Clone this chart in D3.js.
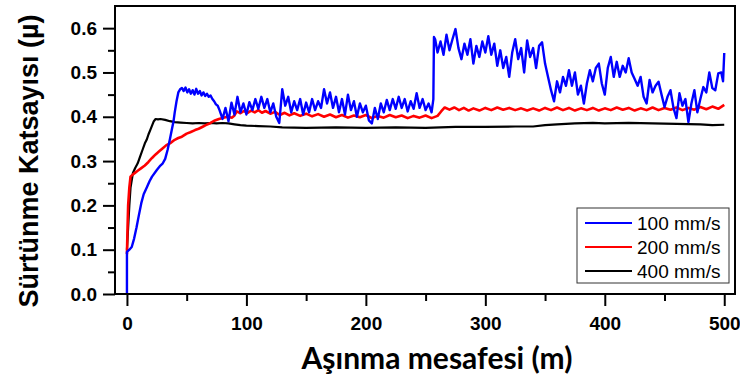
<!DOCTYPE html>
<html>
<head>
<meta charset="utf-8">
<script src="https://cdn.jsdelivr.net/npm/d3@7"></script>
<style>
  body { margin: 0; background: #fff; }
  svg { display: block; }
</style>
</head>
<body>
<svg id="chart" width="740" height="378"></svg>
<script>
// series: [distance (m), friction coefficient]
const blue100 = [
  [0,0],[0,0.095],[2,0.1],[4,0.106],[6,0.125],[8,0.15],[10,0.178],[12,0.205],[14,0.225],[16.5,0.24],
  [19,0.255],[21,0.265],[25,0.28],[28,0.29],[30,0.295],[32,0.305],[34,0.325],[36,0.35],[37.5,0.37],
  [39,0.39],[40,0.41],[41.5,0.435],[43,0.455],[44.5,0.462],[46,0.465],[47.5,0.458],[49,0.466],
  [50.5,0.455],[52,0.462],[53.5,0.452],[55,0.46],[56.5,0.45],[58,0.463],[59.5,0.452],[61,0.458],
  [62.5,0.448],[64,0.455],[65.5,0.447],[67,0.452],[68.5,0.445],[70,0.448],[71.5,0.44],[73,0.435],
  [74.5,0.428],[76,0.425],[77.5,0.415],[80,0.395],[82.5,0.42],[85,0.39],[87.5,0.432],[90,0.405],
  [92.5,0.445],[95,0.41],[97.5,0.43],[100,0.405],[102.5,0.433],[105,0.415],[107.5,0.44],[110,0.418],
  [112.5,0.445],[115,0.42],[117.5,0.44],[120,0.41],[122.5,0.43],[125,0.4],[127.5,0.386],[130,0.462],
  [132.5,0.425],[135,0.445],[137.5,0.41],[140,0.435],[142.5,0.415],[145,0.44],[147.5,0.405],
  [150,0.432],[152.5,0.41],[155,0.44],[157.5,0.415],[160,0.435],[162.5,0.42],[165,0.462],[167.5,0.43],
  [170,0.455],[172.5,0.42],[175,0.445],[177.5,0.41],[180,0.44],[182.5,0.405],[185,0.45],[187.5,0.415],
  [190,0.435],[192.5,0.4],[195,0.43],[197.5,0.41],[200,0.425],[202.5,0.392],[205,0.385],[207.5,0.42],
  [210,0.395],[212.5,0.43],[215,0.41],[217.5,0.438],[220,0.415],[222.5,0.44],[225,0.418],[227.5,0.445],
  [230,0.42],[232.5,0.44],[235,0.412],[237.5,0.435],[240,0.418],[242.5,0.453],[245,0.42],[247.5,0.44],
  [250,0.415],[252.5,0.43],[255,0.41],[256.5,0.44],[257,0.58],[258,0.575],[260,0.545],[262.5,0.57],
  [265,0.54],[267.5,0.585],[270,0.55],[272.5,0.575],[275,0.598],[277.5,0.555],[280,0.53],[282.5,0.565],
  [285,0.54],[287.5,0.575],[290,0.52],[292.5,0.56],[295,0.535],[297.5,0.57],[300,0.545],[302.5,0.582],
  [305,0.54],[307.5,0.565],[310,0.515],[312.5,0.55],[315,0.51],[317.5,0.535],[320,0.49],[322.5,0.545],
  [325,0.575],[327.5,0.53],[330,0.555],[332.5,0.5],[335,0.572],[337.5,0.535],[340,0.555],[342.5,0.51],
  [345,0.56],[347.5,0.568],[350,0.52],[352.5,0.49],[355,0.46],[357.5,0.435],[360,0.48],[362.5,0.455],
  [365,0.49],[367.5,0.47],[370,0.505],[372.5,0.47],[375,0.5],[377.5,0.45],[380,0.47],[382.5,0.43],
  [385,0.475],[387.5,0.505],[390,0.48],[392.5,0.51],[395,0.52],[397.5,0.475],[400,0.45],[402.5,0.51],
  [405,0.535],[407.5,0.49],[410,0.524],[412.5,0.49],[415,0.515],[417.5,0.5],[420,0.532],[422.5,0.5],
  [425,0.485],[427.5,0.47],[430,0.49],[432.5,0.445],[435,0.43],[437.5,0.483],[440,0.455],[442.5,0.47],
  [445,0.479],[447.5,0.45],[450,0.422],[452.5,0.445],[455,0.46],[457.5,0.42],[460,0.397],[462.5,0.453],
  [465,0.425],[467.5,0.44],[470,0.388],[472.5,0.43],[475,0.46],[477.5,0.41],[480,0.44],[482.5,0.467],
  [485,0.455],[487.5,0.5],[490,0.465],[492.5,0.46],[495,0.498],[497.5,0.5],[499,0.48],[500,0.544]
];
const red200 = [
  [0,0.09],[0.5,0.15],[1,0.2],[2,0.24],[3,0.265],[5,0.27],[7,0.274],[9,0.278],[12,0.284],[15,0.29],
  [18,0.298],[21,0.307],[24,0.315],[27,0.322],[30,0.329],[33,0.336],[36,0.34],[40,0.348],[43,0.352],
  [46,0.355],[50,0.362],[53,0.365],[57,0.37],[60,0.373],[63,0.377],[66,0.381],[70,0.386],[73,0.391],
  [77,0.395],[80,0.397],[84,0.4],[88,0.398],[90,0.403],[92,0.412],[95,0.408],[98,0.413],[101,0.409],
  [104,0.414],[107,0.41],[110,0.415],[113,0.409],[116,0.413],[120,0.407],[124,0.411],[128,0.404],
  [132,0.409],[136,0.403],[140,0.408],[145,0.402],[150,0.407],[155,0.401],[160,0.406],[165,0.4],
  [170,0.405],[175,0.399],[180,0.404],[185,0.398],[190,0.403],[195,0.399],[200,0.404],[205,0.397],
  [210,0.402],[215,0.398],[220,0.404],[225,0.399],[230,0.403],[235,0.397],[240,0.402],[245,0.398],
  [250,0.403],[255,0.397],[260,0.402],[263,0.412],[266,0.421],[270,0.416],[274,0.421],[278,0.415],
  [282,0.42],[286,0.414],[290,0.419],[295,0.414],[300,0.42],[305,0.415],[310,0.421],[315,0.416],
  [320,0.42],[325,0.415],[330,0.419],[335,0.414],[340,0.419],[345,0.414],[350,0.42],[355,0.415],
  [360,0.421],[365,0.415],[370,0.42],[375,0.414],[380,0.419],[385,0.415],[390,0.42],[395,0.414],
  [400,0.419],[405,0.415],[410,0.421],[415,0.416],[420,0.42],[425,0.414],[430,0.419],[435,0.415],
  [440,0.421],[445,0.415],[450,0.42],[455,0.416],[460,0.421],[465,0.415],[470,0.42],[475,0.416],
  [480,0.422],[485,0.417],[490,0.423],[495,0.418],[500,0.427]
];
const black400 = [
  [0,0.1],[1,0.15],[2,0.2],[3,0.24],[5,0.273],[7,0.285],[9,0.295],[11,0.31],[13,0.325],[15,0.34],
  [16.5,0.348],[18,0.36],[19.5,0.37],[21,0.38],[22.5,0.39],[24,0.395],[26,0.394],[28,0.395],[32,0.393],
  [36,0.39],[40,0.388],[45,0.387],[50,0.386],[55,0.385],[60,0.386],[65,0.385],[70,0.386],[75,0.385],
  [80,0.386],[85,0.385],[90,0.383],[95,0.381],[100,0.38],[110,0.379],[120,0.378],[130,0.376],
  [150,0.375],[175,0.376],[200,0.375],[225,0.376],[250,0.375],[275,0.377],[300,0.377],[325,0.378],
  [340,0.378],[350,0.381],[360,0.383],[375,0.385],[390,0.386],[400,0.385],[420,0.386],[440,0.385],
  [460,0.384],[480,0.383],[490,0.381],[500,0.382]
];

const legendLabels = ["100 mm/s", "200 mm/s", "400 mm/s"];
const xTicks = [0, 100, 200, 300, 400, 500];
const xMinor = [50, 150, 250, 350, 450];
const yTicks = [0, 0.1, 0.2, 0.3, 0.4, 0.5, 0.6];
const yMinor = [0.05, 0.15, 0.25, 0.35, 0.45, 0.55];

const plot = {left: 115, right: 735, top: 6, bottom: 294};

const svg = d3.select("#chart");

const x = d3.scaleLinear().domain([-10, 509]).range([plot.left, plot.right]);
const y = d3.scaleLinear().domain([0, 0.65]).range([plot.bottom, plot.top]);

// lines
const line = d3.line().x(d => x(d[0])).y(d => y(d[1]));
const series = [
  {data: black400, color: "#000000", w: 2.2},
  {data: red200, color: "#ff0000", w: 2.6},
  {data: blue100, color: "#0000ff", w: 2.4}
];
svg.append("g").selectAll("path")
  .data(series)
  .enter()
  .append("path")
  .attr("d", s => line(s.data))
  .attr("fill", "none")
  .attr("stroke", s => s.color)
  .attr("stroke-width", s => s.w)
  .attr("stroke-linejoin", "round");

// frame
svg.append("rect")
  .attr("x", plot.left).attr("y", plot.top)
  .attr("width", plot.right - plot.left).attr("height", plot.bottom - plot.top)
  .attr("fill", "none").attr("stroke", "#000").attr("stroke-width", 2);

// axes
const tickFont = "bold 19px 'Liberation Sans', Arial, sans-serif";
const xAxis = d3.axisBottom(x).tickValues(xTicks).tickSize(12).tickPadding(11).tickFormat(d3.format("d"));
const gx = svg.append("g").attr("transform", `translate(0, ${plot.bottom})`).call(xAxis);
gx.select(".domain").remove();
gx.selectAll("line").attr("stroke-width", 2);
gx.selectAll("text").style("font", tickFont).attr("fill", "#000");
svg.append("g").attr("transform", `translate(0, ${plot.bottom})`)
  .call(d3.axisBottom(x).tickValues(xMinor).tickSize(7).tickFormat(""))
  .call(g => g.select(".domain").remove())
  .selectAll("line").attr("stroke-width", 2);

const yAxis = d3.axisLeft(y).tickValues(yTicks).tickSize(12).tickPadding(6).tickFormat(d3.format(".1f"));
const gy = svg.append("g").attr("transform", `translate(${plot.left}, 0)`).call(yAxis);
gy.select(".domain").remove();
gy.selectAll("line").attr("stroke-width", 2);
gy.selectAll("text").style("font", tickFont).attr("fill", "#000");
svg.append("g").attr("transform", `translate(${plot.left}, 0)`)
  .call(d3.axisLeft(y).tickValues(yMinor).tickSize(7).tickFormat(""))
  .call(g => g.select(".domain").remove())
  .selectAll("line").attr("stroke-width", 2);

// axis titles
svg.append("text")
  .attr("x", 437).attr("y", 369)
  .attr("text-anchor", "middle")
  .style("font", "bold 30px Lato, 'Open Sans', sans-serif")
  .text("Aşınma mesafesi (m)");

svg.append("text")
  .attr("transform", "translate(38, 161) rotate(-90)")
  .attr("text-anchor", "middle")
  .style("font", "bold 27px 'Liberation Sans', Arial, sans-serif")
  .text("Sürtünme Katsayısı (µ)");

// legend
const legend = svg.append("g");
legend.append("rect")
  .attr("x", 577).attr("y", 208).attr("width", 152).attr("height", 75)
  .attr("fill", "#fff").attr("stroke", "#333").attr("stroke-width", 1);
const rows = legend.selectAll(".row")
  .data(series.slice().reverse())
  .enter().append("g")
  .attr("class", "row")
  .attr("transform", (d, i) => `translate(0, ${223 + i * 24})`);
rows.append("line")
  .attr("x1", 585).attr("x2", 632)
  .attr("stroke", d => d.color).attr("stroke-width", 2);
rows.append("text")
  .attr("x", 637).attr("dy", "0.35em")
  .style("font", "19px 'Liberation Sans', Arial, sans-serif")
  .text((d, i) => legendLabels[i]);
</script>
</body>
</html>
